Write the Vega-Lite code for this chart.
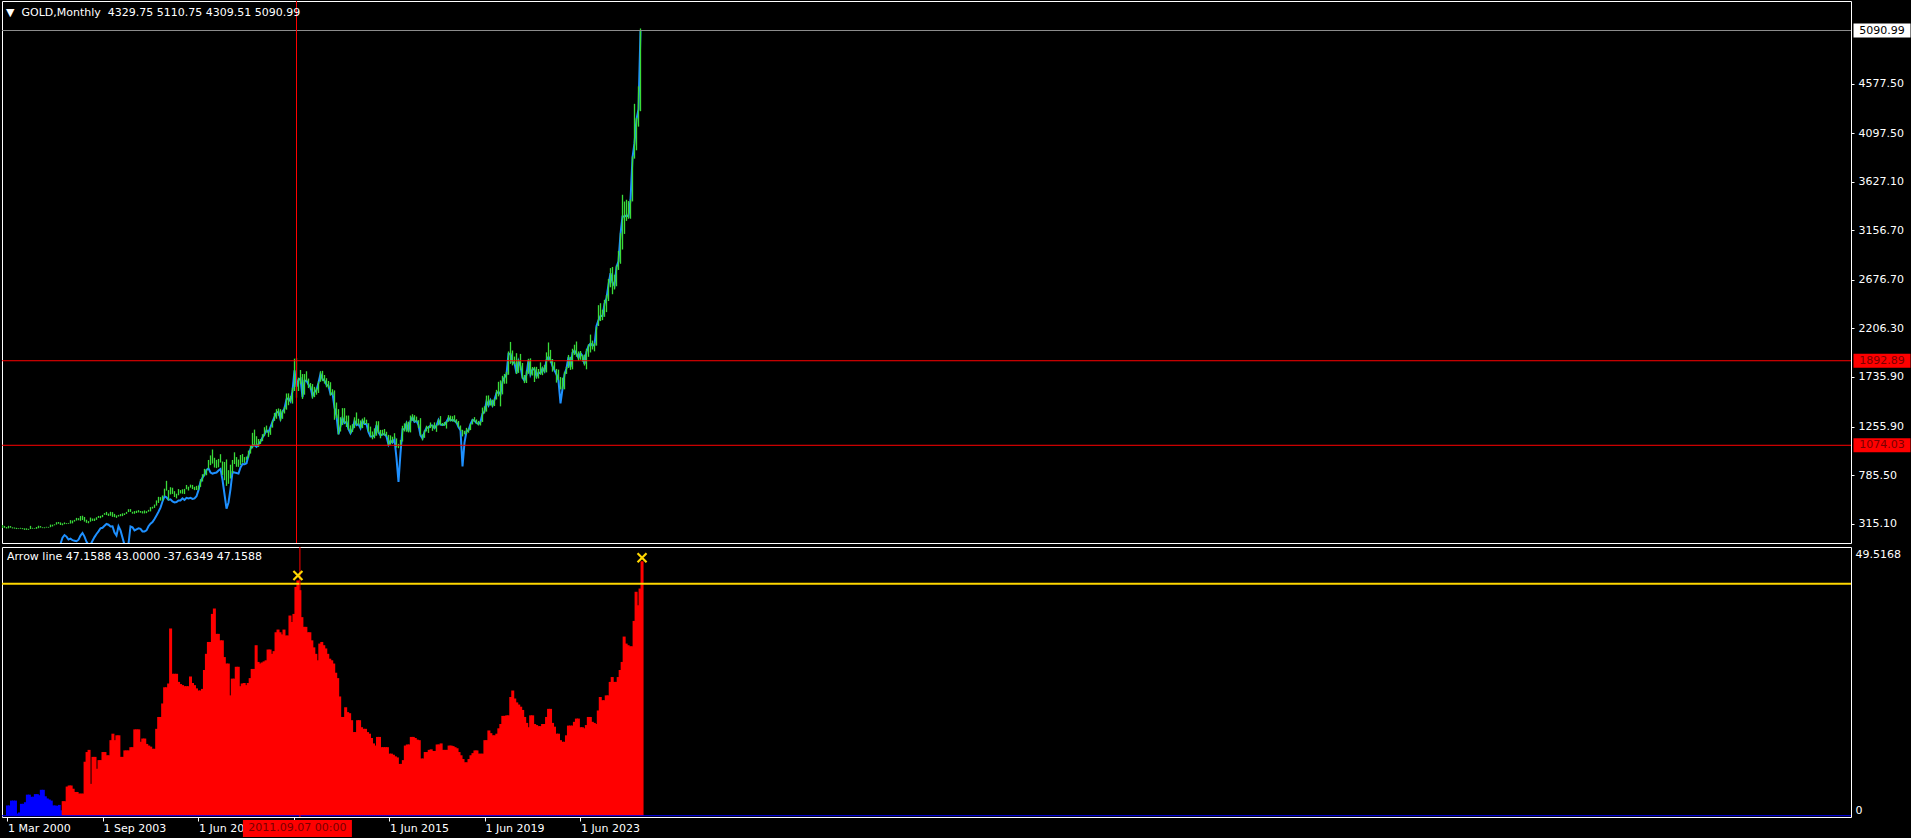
{
"$schema":"https://vega.github.io/schema/vega-lite/v6.json",
"background":"black",
"padding":{"left":0,"top":0,"right":0,"bottom":0},
"spacing":2,
"config":{
 "view":{"stroke":"white","strokeWidth":1},
 "axis":{"labelFont":"DejaVu Sans","labelFontSize":11,"labelColor":"white","tickColor":"white","domain":false,"grid":false,"labelOverlap":false,"labelBound":false},
 "title":{"font":"DejaVu Sans","fontSize":11,"fontWeight":"normal","color":"white","anchor":"start","frame":"group","baseline":"alphabetic"},
 "text":{"font":"DejaVu Sans","fontSize":11}
},
"resolve":{"scale":{"x":"independent","y":"independent"}},
"datasets":{
"bars":[
{"i":0,"h":301,"l":274,"v":1.9},{"i":1,"h":293,"l":275,"v":1.9},{"i":2,"h":283,"l":268,"v":2.8},{"i":3,"h":294,"l":270,"v":2.8},{"i":4,"h":292,"l":276,"v":2.8},
{"i":5,"h":280,"l":269,"v":0.4},{"i":6,"h":278,"l":267,"v":0.6},{"i":7,"h":275,"l":263,"v":2.2},{"i":8,"h":270,"l":263,"v":2.2},{"i":9,"h":275,"l":266,"v":2.5},
{"i":10,"h":272,"l":262,"v":3.9},{"i":11,"h":270,"l":255,"v":3.9},{"i":12,"h":270,"l":255,"v":3.5},{"i":13,"h":265,"l":255,"v":3.5},{"i":14,"h":294,"l":263,"v":4.0},
{"i":15,"h":275,"l":266,"v":4.0},{"i":16,"h":270,"l":264,"v":3.8},{"i":17,"h":283,"l":265,"v":4.8},{"i":18,"h":295,"l":271,"v":4.8},{"i":19,"h":292,"l":277,"v":3.6},
{"i":20,"h":280,"l":272,"v":3.2},{"i":21,"h":280,"l":271,"v":3.0},{"i":22,"h":285,"l":277,"v":2.8},{"i":23,"h":284,"l":276,"v":1.9},{"i":24,"h":306,"l":281,"v":1.9},
{"i":25,"h":305,"l":288,"v":1.8},{"i":26,"h":309,"l":299,"v":2.0},{"i":27,"h":329,"l":306,"v":1.0},{"i":28,"h":331,"l":314,"v":2.7},{"i":29,"h":327,"l":302,"b":120,"v":2.7},
{"i":30,"h":318,"l":300,"b":180,"v":5.4},{"i":31,"h":327,"l":310,"b":205,"v":5.6},{"i":32,"h":320,"l":311,"b":190,"v":5.6},{"i":33,"h":322,"l":314,"b":162,"v":5.0},{"i":34,"h":349,"l":316,"b":170,"v":4.4},
{"i":35,"h":345,"l":318,"b":155,"v":4.4},{"i":36,"h":352,"l":335,"b":150,"v":4.1},{"i":37,"h":371,"l":345,"b":145,"v":4.1},{"i":38,"h":368,"l":348,"b":160,"v":4.1},{"i":39,"h":389,"l":343,"b":200,"v":10.0},
{"i":40,"h":392,"l":350,"b":225,"v":11.8},{"i":41,"h":380,"l":335,"b":190,"v":12.2},{"i":42,"h":353,"l":323,"b":140,"v":5.9},{"i":43,"h":340,"l":319,"b":110,"v":10.9},{"i":44,"h":374,"l":334,"b":110,"v":10.9},
{"i":45,"h":365,"l":342,"b":150,"v":8.7},{"i":46,"h":365,"l":341,"b":185,"v":10.3},{"i":47,"h":377,"l":352,"b":215,"v":10.3},{"i":48,"h":390,"l":371,"b":240,"v":11.8},{"i":49,"h":391,"l":368,"b":270,"v":11.8},
{"i":50,"h":400,"l":378,"b":275,"v":11.2},{"i":51,"h":417,"l":401,"b":295,"v":11.2},{"i":52,"h":429,"l":398,"b":312,"v":14.0},{"i":53,"h":413,"l":390,"b":305,"v":15.2},{"i":54,"h":430,"l":392,"b":288,"v":14.0},
{"i":55,"h":427,"l":381,"b":290,"v":14.9},{"i":56,"h":410,"l":378,"b":230,"v":14.9},{"i":57,"h":395,"l":371,"b":200,"v":10.9},{"i":58,"h":400,"l":384,"b":290,"v":10.9},{"i":59,"h":408,"l":387,"b":250,"v":12.1},
{"i":60,"h":415,"l":388,"b":180,"v":12.1},{"i":61,"h":415,"l":399,"b":110,"v":12.1},{"i":62,"h":429,"l":410,"b":100,"v":12.7},{"i":63,"h":455,"l":427,"b":120,"v":12.7},{"i":64,"h":456,"l":429,"b":288,"v":16.0},
{"i":65,"h":430,"l":412,"b":280,"v":16.0},{"i":66,"h":437,"l":411,"b":250,"v":16.0},{"i":67,"h":440,"l":418,"b":260,"v":13.7},{"i":68,"h":446,"l":424,"b":270,"v":14.3},{"i":69,"h":438,"l":421,"b":265,"v":14.3},
{"i":70,"h":436,"l":414,"b":240,"v":13.3},{"i":71,"h":443,"l":414,"b":240,"v":13.0},{"i":72,"h":436,"l":417,"b":250,"v":12.8},{"i":73,"h":449,"l":431,"b":290,"v":12.4},{"i":74,"h":475,"l":434,"b":315,"v":12.4},
{"i":75,"h":479,"l":461,"b":330,"v":16.1},{"i":76,"h":500,"l":468,"b":360,"v":18.3},{"i":77,"h":540,"l":490,"b":395,"v":18.3},{"i":78,"h":575,"l":516,"b":430,"v":20.8},{"i":79,"h":572,"l":538,"b":470,"v":23.8},
{"i":80,"h":588,"l":538,"b":530,"v":23.8},{"i":81,"h":654,"l":582,"b":580,"v":24.5},{"i":82,"h":730,"l":635,"b":570,"v":34.7},{"i":83,"h":640,"l":542,"b":545,"v":26.3},{"i":84,"h":668,"l":598,"b":550,"v":26.3},
{"i":85,"h":663,"l":603,"b":530,"v":26.3},{"i":86,"h":630,"l":573,"b":520,"v":24.8},{"i":87,"h":605,"l":560,"b":525,"v":24.4},{"i":88,"h":650,"l":590,"b":540,"v":24.2},{"i":89,"h":640,"l":608,"b":540,"v":24.0},
{"i":90,"h":648,"l":605,"b":560,"v":24.0},{"i":91,"h":652,"l":602,"b":545,"v":24.0},{"i":92,"h":690,"l":648,"b":565,"v":25.8},{"i":93,"h":673,"l":636,"b":560,"v":24.6},{"i":94,"h":693,"l":664,"b":565,"v":24.2},
{"i":95,"h":690,"l":650,"b":555,"v":23.6},{"i":96,"h":672,"l":640,"b":560,"v":23.2},{"i":97,"h":681,"l":641,"b":580,"v":23.2},{"i":98,"h":684,"l":642,"b":640,"v":23.5},{"i":99,"h":745,"l":671,"b":720,"v":27.0},
{"i":100,"h":794,"l":723,"b":760,"v":30.0},{"i":101,"h":846,"l":775,"b":790,"v":32.2},{"i":102,"h":842,"l":784,"b":835,"v":32.2},{"i":103,"h":932,"l":849,"b":850,"v":37.4},{"i":104,"h":976,"l":882,"b":810,"v":38.4},
{"i":105,"h":1033,"l":897,"b":800,"v":33.7},{"i":106,"h":953,"l":859,"b":805,"v":33.7},{"i":107,"h":933,"l":853,"b":810,"v":32.5},{"i":108,"h":942,"l":861,"b":830,"v":32.5},{"i":109,"h":988,"l":907,"b":845,"v":29.4},
{"i":110,"h":917,"l":786,"b":740,"v":28.2},{"i":111,"h":912,"l":736,"b":600,"v":28.2},{"i":112,"h":937,"l":681,"b":460,"v":22.3},{"i":113,"h":833,"l":701,"b":520,"v":25.4},{"i":114,"h":886,"l":752,"b":650,"v":25.4},
{"i":115,"h":932,"l":803,"b":816,"v":27.6},{"i":116,"h":1006,"l":893,"b":810,"v":27.6},{"i":117,"h":960,"l":866,"b":806,"v":24.0},{"i":118,"h":936,"l":865,"b":800,"v":24.5},{"i":119,"h":980,"l":884,"b":860,"v":24.6},
{"i":120,"h":989,"l":906,"b":893,"v":24.2},{"i":121,"h":960,"l":903,"b":890,"v":24.6},{"i":122,"h":965,"l":933,"b":900,"v":25.5},{"i":123,"h":1023,"l":953,"b":975,"v":27.2},{"i":124,"h":1070,"l":994,"b":1040,"v":27.2},
{"i":125,"h":1195,"l":1044,"b":1070,"v":31.6},{"i":126,"h":1226,"l":1075,"b":1075,"v":28.5},{"i":127,"h":1162,"l":1074,"b":1060,"v":28.2},{"i":128,"h":1135,"l":1058,"b":1085,"v":28.4},{"i":129,"h":1134,"l":1087,"b":1110,"v":28.6},
{"i":130,"h":1182,"l":1114,"b":1150,"v":28.8},{"i":131,"h":1249,"l":1163,"b":1180,"v":30.8},{"i":132,"h":1265,"l":1199,"b":1220,"v":30.8},{"i":133,"h":1213,"l":1155,"b":1200,"v":30.0},{"i":134,"h":1249,"l":1175,"b":1250,"v":30.5},
{"i":135,"h":1315,"l":1245,"b":1300,"v":34.0},{"i":136,"h":1388,"l":1310,"b":1350,"v":34.5},{"i":137,"h":1424,"l":1331,"b":1390,"v":34.0},{"i":138,"h":1431,"l":1360,"b":1400,"v":33.6},{"i":139,"h":1424,"l":1308,"b":1330,"v":34.5},
{"i":140,"h":1411,"l":1330,"b":1400,"v":33.4},{"i":141,"h":1448,"l":1382,"b":1430,"v":33.4},{"i":142,"h":1576,"l":1419,"b":1520,"v":37.1},{"i":143,"h":1577,"l":1462,"b":1530,"v":35.9},{"i":144,"h":1552,"l":1496,"b":1500,"v":37.4},
{"i":145,"h":1632,"l":1478,"b":1600,"v":42.4},{"i":146,"h":1913,"l":1600,"b":1800,"v":43.6},{"i":147,"h":1921,"l":1535,"b":1640,"v":41.8},{"i":148,"h":1729,"l":1600,"b":1710,"v":36.8},{"i":149,"h":1803,"l":1667,"b":1720,"v":35.0},
{"i":150,"h":1764,"l":1523,"b":1540,"v":35.0},{"i":151,"h":1764,"l":1564,"b":1700,"v":34.0},{"i":152,"h":1791,"l":1694,"b":1700,"v":34.0},{"i":153,"h":1720,"l":1628,"b":1660,"v":32.5},{"i":154,"h":1677,"l":1613,"b":1640,"v":31.2},
{"i":155,"h":1667,"l":1527,"b":1550,"v":30.0},{"i":156,"h":1640,"l":1540,"b":1590,"v":28.8},{"i":157,"h":1630,"l":1564,"b":1610,"v":31.9},{"i":158,"h":1692,"l":1581,"b":1680,"v":32.2},{"i":159,"h":1790,"l":1689,"b":1765,"v":31.6},
{"i":160,"h":1795,"l":1695,"b":1715,"v":31.0},{"i":161,"h":1755,"l":1672,"b":1700,"v":30.0},{"i":162,"h":1724,"l":1636,"b":1660,"v":29.1},{"i":163,"h":1697,"l":1626,"b":1650,"v":28.8},{"i":164,"h":1685,"l":1555,"b":1570,"v":28.2},
{"i":165,"h":1617,"l":1563,"b":1580,"v":26.5},{"i":166,"h":1606,"l":1321,"b":1440,"v":25.5},{"i":167,"h":1488,"l":1338,"b":1360,"v":22.1},{"i":168,"h":1424,"l":1180,"b":1180,"v":18.3},{"i":169,"h":1346,"l":1208,"b":1260,"v":18.3},
{"i":170,"h":1434,"l":1270,"b":1340,"v":20.1},{"i":171,"h":1434,"l":1293,"b":1290,"v":19.2},{"i":172,"h":1362,"l":1251,"b":1300,"v":19.0},{"i":173,"h":1362,"l":1221,"b":1230,"v":17.7},{"i":174,"h":1267,"l":1187,"b":1190,"v":15.5},
{"i":175,"h":1279,"l":1202,"b":1230,"v":15.5},{"i":176,"h":1345,"l":1240,"b":1310,"v":17.7},{"i":177,"h":1392,"l":1277,"b":1270,"v":17.7},{"i":178,"h":1331,"l":1268,"b":1280,"v":16.4},{"i":179,"h":1315,"l":1240,"b":1240,"v":16.1},
{"i":180,"h":1332,"l":1240,"b":1310,"v":16.1},{"i":181,"h":1345,"l":1281,"b":1280,"v":15.5},{"i":182,"h":1322,"l":1280,"b":1280,"v":15.2},{"i":183,"h":1288,"l":1205,"b":1200,"v":14.4},{"i":184,"h":1255,"l":1161,"b":1160,"v":13.4},
{"i":185,"h":1208,"l":1132,"b":1160,"v":13.0},{"i":186,"h":1238,"l":1142,"b":1170,"v":14.6},{"i":187,"h":1307,"l":1167,"b":1270,"v":14.6},{"i":188,"h":1307,"l":1191,"b":1200,"v":12.7},{"i":189,"h":1223,"l":1142,"b":1170,"v":12.7},
{"i":190,"h":1224,"l":1170,"b":1180,"v":12.7},{"i":191,"h":1232,"l":1169,"b":1180,"v":12.7},{"i":192,"h":1205,"l":1162,"b":1160,"v":11.5},{"i":193,"h":1175,"l":1077,"b":1080,"v":11.5},{"i":194,"h":1170,"l":1080,"b":1120,"v":11.3},
{"i":195,"h":1157,"l":1098,"b":1100,"v":11.0},{"i":196,"h":1191,"l":1136,"b":1130,"v":10.8},{"i":197,"h":1141,"l":1052,"b":950,"v":9.6},{"i":198,"h":1088,"l":1046,"b":720,"v":9.6},{"i":199,"h":1126,"l":1062,"b":1000,"v":10.3},
{"i":200,"h":1263,"l":1111,"b":1230,"v":13.0},{"i":201,"h":1287,"l":1208,"b":1230,"v":13.2},{"i":202,"h":1304,"l":1205,"b":1285,"v":13.2},{"i":203,"h":1303,"l":1199,"b":1210,"v":14.6},{"i":204,"h":1362,"l":1199,"b":1310,"v":14.6},
{"i":205,"h":1375,"l":1310,"b":1345,"v":14.4},{"i":206,"h":1366,"l":1301,"b":1300,"v":14.1},{"i":207,"h":1352,"l":1302,"b":1310,"v":14.0},{"i":208,"h":1317,"l":1241,"b":1270,"v":10.6},{"i":209,"h":1337,"l":1171,"b":1170,"v":10.6},
{"i":210,"h":1180,"l":1122,"b":1140,"v":11.8},{"i":211,"h":1220,"l":1146,"b":1205,"v":11.8},{"i":212,"h":1264,"l":1208,"b":1245,"v":12.2},{"i":213,"h":1262,"l":1194,"b":1245,"v":12.3},{"i":214,"h":1295,"l":1241,"b":1265,"v":12.0},
{"i":215,"h":1270,"l":1214,"b":1265,"v":12.0},{"i":216,"h":1296,"l":1236,"b":1240,"v":13.2},{"i":217,"h":1271,"l":1204,"b":1265,"v":13.2},{"i":218,"h":1326,"l":1267,"b":1320,"v":13.4},{"i":219,"h":1357,"l":1271,"b":1275,"v":12.2},
{"i":220,"h":1290,"l":1261,"b":1270,"v":12.2},{"i":221,"h":1299,"l":1264,"b":1275,"v":12.2},{"i":222,"h":1307,"l":1236,"b":1300,"v":13.0},{"i":223,"h":1366,"l":1302,"b":1340,"v":13.0},{"i":224,"h":1361,"l":1307,"b":1315,"v":12.9},
{"i":225,"h":1356,"l":1303,"b":1320,"v":12.7},{"i":226,"h":1365,"l":1302,"b":1310,"v":12.5},{"i":227,"h":1326,"l":1281,"b":1295,"v":11.8},{"i":228,"h":1309,"l":1247,"b":1250,"v":11.2},{"i":229,"h":1266,"l":1211,"b":1220,"v":10.5},
{"i":230,"h":1224,"l":1160,"b":870,"v":9.9},{"i":231,"h":1214,"l":1180,"b":1100,"v":9.9},{"i":232,"h":1243,"l":1182,"b":1210,"v":10.5},{"i":233,"h":1237,"l":1196,"b":1220,"v":11.2},{"i":234,"h":1284,"l":1221,"b":1280,"v":11.6},
{"i":235,"h":1326,"l":1276,"b":1320,"v":12.1},{"i":236,"h":1347,"l":1302,"b":1310,"v":12.1},{"i":237,"h":1324,"l":1280,"b":1290,"v":11.5},{"i":238,"h":1310,"l":1266,"b":1280,"v":11.5},{"i":239,"h":1306,"l":1266,"b":1300,"v":11.5},
{"i":240,"h":1439,"l":1300,"b":1380,"v":14.0},{"i":241,"h":1452,"l":1382,"b":1400,"v":14.0},{"i":242,"h":1555,"l":1400,"b":1500,"v":15.8},{"i":243,"h":1557,"l":1459,"b":1460,"v":15.3},{"i":244,"h":1518,"l":1459,"b":1510,"v":14.9},
{"i":245,"h":1516,"l":1445,"b":1460,"v":14.9},{"i":246,"h":1525,"l":1454,"b":1515,"v":15.2},{"i":247,"h":1611,"l":1517,"b":1580,"v":16.2},{"i":248,"h":1689,"l":1548,"b":1590,"v":17.0},{"i":249,"h":1703,"l":1451,"b":1570,"v":18.5},
{"i":250,"h":1747,"l":1567,"b":1690,"v":18.5},{"i":251,"h":1765,"l":1670,"b":1730,"v":18.6},{"i":252,"h":1785,"l":1671,"b":1760,"v":18.6},{"i":253,"h":1983,"l":1757,"b":1960,"v":22.0},{"i":254,"h":2075,"l":1863,"b":1960,"v":23.2},
{"i":255,"h":1992,"l":1848,"b":1880,"v":21.7},{"i":256,"h":1933,"l":1860,"b":1870,"v":21.0},{"i":257,"h":1966,"l":1764,"b":1770,"v":20.6},{"i":258,"h":1906,"l":1775,"b":1890,"v":20.2},{"i":259,"h":1959,"l":1802,"b":1840,"v":19.6},
{"i":260,"h":1871,"l":1717,"b":1730,"v":18.3},{"i":261,"h":1755,"l":1676,"b":1700,"v":17.2},{"i":262,"h":1797,"l":1677,"b":1760,"v":16.4},{"i":263,"h":1912,"l":1766,"b":1900,"v":18.6},{"i":264,"h":1916,"l":1750,"b":1760,"v":18.6},
{"i":265,"h":1832,"l":1750,"b":1810,"v":17.0},{"i":266,"h":1834,"l":1687,"b":1810,"v":16.8},{"i":267,"h":1834,"l":1721,"b":1740,"v":16.6},{"i":268,"h":1813,"l":1721,"b":1780,"v":16.6},{"i":269,"h":1877,"l":1758,"b":1770,"v":17.0},
{"i":270,"h":1831,"l":1753,"b":1820,"v":17.0},{"i":271,"h":1853,"l":1780,"b":1790,"v":18.3},{"i":272,"h":1974,"l":1780,"b":1900,"v":19.8},{"i":273,"h":2070,"l":1890,"b":1930,"v":19.8},{"i":274,"h":1998,"l":1872,"b":1900,"v":17.2},
{"i":275,"h":1910,"l":1787,"b":1840,"v":16.5},{"i":276,"h":1879,"l":1805,"b":1800,"v":15.2},{"i":277,"h":1814,"l":1681,"b":1760,"v":15.2},{"i":278,"h":1807,"l":1709,"b":1700,"v":14.0},{"i":279,"h":1735,"l":1615,"b":1480,"v":13.7},
{"i":280,"h":1729,"l":1617,"b":1620,"v":13.7},{"i":281,"h":1786,"l":1616,"b":1760,"v":14.9},{"i":282,"h":1833,"l":1765,"b":1820,"v":16.7},{"i":283,"h":1949,"l":1823,"b":1930,"v":16.7},{"i":284,"h":1931,"l":1804,"b":1830,"v":16.7},
{"i":285,"h":2009,"l":1810,"b":1970,"v":17.4},{"i":286,"h":2048,"l":1949,"b":1990,"v":18.0},{"i":287,"h":2079,"l":1932,"b":1960,"v":18.0},{"i":288,"h":1983,"l":1893,"b":1920,"v":16.4},{"i":289,"h":1987,"l":1902,"b":1965,"v":16.4},
{"i":290,"h":1949,"l":1884,"b":1940,"v":16.2},{"i":291,"h":1953,"l":1846,"b":1860,"v":16.8},{"i":292,"h":2009,"l":1810,"b":1980,"v":18.3},{"i":293,"h":2052,"l":1931,"b":2035,"v":18.3},{"i":294,"h":2146,"l":1973,"b":2060,"v":17.4},
{"i":295,"h":2088,"l":2002,"b":2040,"v":17.2},{"i":296,"h":2065,"l":1984,"b":2045,"v":17.0},{"i":297,"h":2222,"l":2039,"b":2230,"v":19.5},{"i":298,"h":2431,"l":2229,"b":2285,"v":22.0},{"i":299,"h":2450,"l":2277,"b":2325,"v":21.4},
{"i":300,"h":2387,"l":2286,"b":2325,"v":21.4},{"i":301,"h":2483,"l":2318,"b":2445,"v":22.3},{"i":302,"h":2531,"l":2364,"b":2500,"v":22.3},{"i":303,"h":2685,"l":2471,"b":2630,"v":24.8},{"i":304,"h":2790,"l":2604,"b":2740,"v":25.7},
{"i":305,"h":2801,"l":2537,"b":2650,"v":24.8},{"i":306,"h":2726,"l":2583,"b":2620,"v":24.8},{"i":307,"h":2817,"l":2614,"b":2800,"v":25.7},{"i":308,"h":2956,"l":2772,"b":2855,"v":27.0},{"i":309,"h":3128,"l":2832,"b":3120,"v":28.5},
{"i":310,"h":3500,"l":2970,"b":3290,"v":33.2},{"i":311,"h":3435,"l":3121,"b":3290,"v":31.9},{"i":312,"h":3452,"l":3247,"b":3300,"v":31.6},{"i":313,"h":3439,"l":3268,"b":3290,"v":31.4},{"i":314,"h":3453,"l":3268,"b":3450,"v":31.4},
{"i":315,"h":3871,"l":3436,"b":3860,"v":36.1},{"i":316,"h":4381,"l":3850,"b":4000,"v":41.5},{"i":317,"h":4245,"l":3931,"b":4230,"v":39.0},{"i":318,"h":4550,"l":4160,"b":4330,"v":42.1},{"i":319,"h":5110.75,"l":4309.51,"b":5090.99,"v":47.1588}
],
"levels":[{"p":5090.99,"t":"5090.99"},{"p":1892.89,"t":"1892.89"},{"p":1074.03,"t":"1074.03"}],
"cursor":[{"i":147,"t":"2011.09.07 00:00"}],
"markers":[{"i":146,"m":44.5},{"i":319,"m":47.8}],
"arrow":[{"a":43}]
},
"vconcat":[
{
 "width":1849,"height":542,
 "title":{"text":"▼\u00a0 GOLD,Monthly\u00a0 4329.75 5110.75 4309.51 5090.99","offset":-17,"dx":4},
 "layer":[
  {"data":{"name":"bars"},
   "mark":{"type":"line","color":"#1E90FF","strokeWidth":2,"clip":true},
   "encoding":{
    "x":{"field":"i","type":"quantitative","scale":{"domain":[-0.25,924.25],"nice":false,"zero":false},"axis":null,"title":null},
    "y":{"field":"b","type":"quantitative","scale":{"domain":[127.8,5376.7],"nice":false,"zero":false},"title":null,
      "axis":{"orient":"right","values":[315.1,785.5,1255.9,1735.9,2206.3,2676.7,3156.7,3627.1,4097.5,4577.5],"format":".2f","tickSize":3,"labelPadding":4,"title":null}}}},
  {"data":{"name":"bars"},
   "mark":{"type":"rule","color":"#3ADB3A","strokeWidth":1.3,"clip":true},
   "encoding":{
    "x":{"field":"i","type":"quantitative","scale":{"domain":[-0.25,924.25],"nice":false,"zero":false},"axis":null,"title":null},
    "y":{"field":"l","type":"quantitative","scale":{"domain":[127.8,5376.7],"nice":false,"zero":false},"title":null},
    "y2":{"field":"h"}}},
  {"data":{"name":"levels"},
   "mark":{"type":"rule","strokeWidth":1},
   "encoding":{
    "y":{"field":"p","type":"quantitative","scale":{"domain":[127.8,5376.7],"nice":false,"zero":false},"title":null},
    "color":{"condition":{"test":"datum.p > 5000","value":"#8c8c8c"},"value":"#FF0000"}}},
  {"data":{"name":"cursor"},
   "mark":{"type":"rule","color":"#FF0000","strokeWidth":1},
   "encoding":{
    "x":{"field":"i","type":"quantitative","scale":{"domain":[-0.25,924.25],"nice":false,"zero":false},"axis":null,"title":null}}},
  {"data":{"name":"levels"},
   "mark":{"type":"point","shape":"M-1,-0.2456L1,-0.2456L1,0.2456L-1,0.2456Z","size":3249,"filled":true,"opacity":1,"strokeWidth":0,"clip":false},
   "encoding":{
    "x":{"datum":939.75,"type":"quantitative","scale":{"domain":[-0.25,924.25],"nice":false,"zero":false},"axis":null,"title":null},
    "y":{"field":"p","type":"quantitative","scale":{"domain":[127.8,5376.7],"nice":false,"zero":false},"title":null},
    "color":{"condition":{"test":"datum.p > 5000","value":"#FFFFFF"},"value":"#FF0000"}}},
  {"data":{"name":"levels"},
   "mark":{"type":"text","align":"center","baseline":"middle","fontSize":11,"font":"DejaVu Sans","clip":false},
   "encoding":{
    "x":{"datum":939.75,"type":"quantitative","scale":{"domain":[-0.25,924.25],"nice":false,"zero":false},"axis":null,"title":null},
    "y":{"field":"p","type":"quantitative","scale":{"domain":[127.8,5376.7],"nice":false,"zero":false},"title":null},
    "text":{"field":"t"},
    "color":{"condition":{"test":"datum.p > 5000","value":"#000000"},"value":"#7a0000"}}}
 ]
},
{
 "width":1849,"height":270,
 "title":{"text":"Arrow line 47.1588 43.0000 -37.6349 47.1588","offset":-15,"dx":5},
 "layer":[
  {"data":{"name":"bars"},
   "mark":{"type":"bar","width":3,"orient":"vertical","clip":true},
   "encoding":{
    "x":{"field":"i","type":"quantitative","scale":{"domain":[-0.25,924.25],"nice":false,"zero":false},"title":null,
      "axis":{"values":[0,48,96,144,192,240,288],"labelExpr":"['1 Mar 2000','1 Sep 2003','1 Jun 2007','','1 Jun 2015','1 Jun 2019','1 Jun 2023'][round(datum.value/48)]","labelAlign":"left","tickSize":4,"labelPadding":1,"title":null,"labelFlush":false}},
    "y":{"field":"v","type":"quantitative","scale":{"domain":[-0.24,49.8],"nice":false,"zero":false},"title":null,
      "axis":{"orient":"right","values":[0,49.5168],"format":".4~f","ticks":false,"tickSize":0,"labelPadding":4,"title":null,
        "labelBaseline":{"condition":{"test":"datum.value > 1","value":"top"},"value":"bottom"}}},
    "color":{"condition":{"test":"datum.i < 28","value":"#0000FF"},"value":"#FF0000"}}},
  {"data":{"name":"arrow"},
   "mark":{"type":"rule","color":"#0000FF","strokeWidth":1},
   "encoding":{
    "y":{"datum":0,"type":"quantitative","scale":{"domain":[-0.24,49.8],"nice":false,"zero":false},"title":null}}},
  {"data":{"name":"arrow"},
   "mark":{"type":"rule","color":"#FFD700","strokeWidth":2},
   "encoding":{
    "y":{"field":"a","type":"quantitative","scale":{"domain":[-0.24,49.8],"nice":false,"zero":false},"title":null}}},
  {"data":{"name":"cursor"},
   "mark":{"type":"rule","color":"#FF0000","strokeWidth":1},
   "encoding":{
    "x":{"field":"i","type":"quantitative","scale":{"domain":[-0.25,924.25],"nice":false,"zero":false},"title":null}}},
  {"data":{"name":"markers"},
   "mark":{"type":"point","shape":"M-1,-1L1,1M1,-1L-1,1","size":81,"filled":false,"color":"#FFD700","strokeWidth":2.2,"opacity":1,"clip":false},
   "encoding":{
    "x":{"field":"i","type":"quantitative","scale":{"domain":[-0.25,924.25],"nice":false,"zero":false},"title":null},
    "y":{"field":"m","type":"quantitative","scale":{"domain":[-0.24,49.8],"nice":false,"zero":false},"title":null}}},
  {"data":{"name":"cursor"},
   "mark":{"type":"point","shape":"M-1,-0.156L1,-0.156L1,0.156L-1,0.156Z","size":11881,"filled":true,"opacity":1,"strokeWidth":0,"color":"#FF0000","clip":false},
   "encoding":{
    "x":{"datum":145.75,"type":"quantitative","scale":{"domain":[-0.25,924.25],"nice":false,"zero":false},"title":null},
    "y":{"datum":-2.37,"type":"quantitative","scale":{"domain":[-0.24,49.8],"nice":false,"zero":false},"title":null}}},
  {"data":{"name":"cursor"},
   "mark":{"type":"text","align":"center","baseline":"middle","fontSize":11,"font":"DejaVu Sans","color":"#7a0000","clip":false},
   "encoding":{
    "x":{"datum":145.75,"type":"quantitative","scale":{"domain":[-0.25,924.25],"nice":false,"zero":false},"title":null},
    "y":{"datum":-2.37,"type":"quantitative","scale":{"domain":[-0.24,49.8],"nice":false,"zero":false},"title":null},
    "text":{"field":"t"}}}
 ]
}
]
}
